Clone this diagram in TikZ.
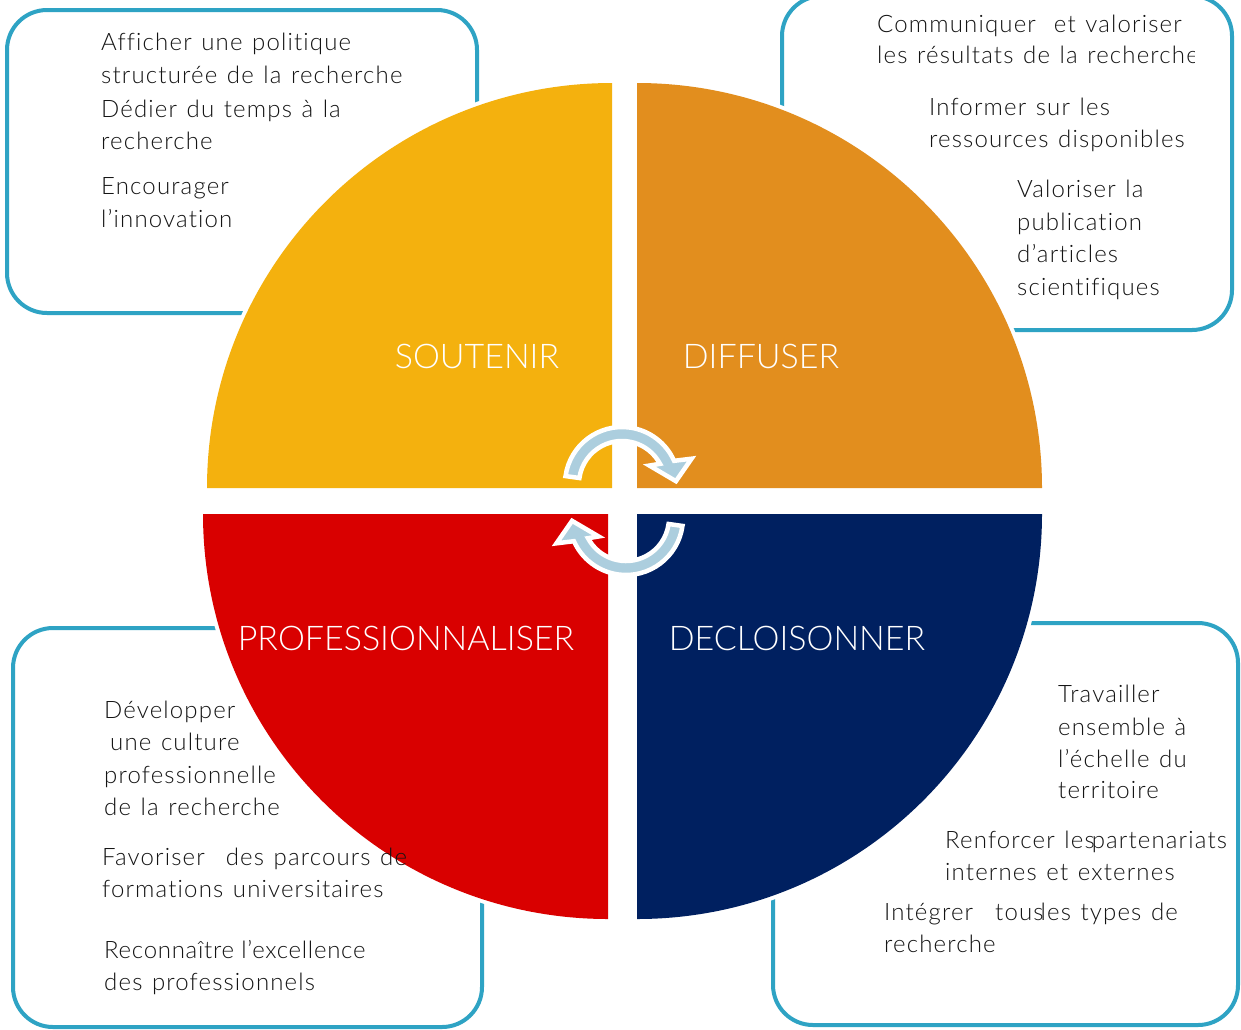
\documentclass[tikz,border=0pt]{standalone}
\usepackage{fontspec}
\setmainfont{Lato}[Ligatures=CommonOff]
\newfontfamily\bodyfont{Lato Light}[Ligatures=CommonOff, LetterSpace=4.8, WordSpace=1.25]
\newfontfamily\bodytight{Lato Light}[Ligatures=CommonOff, LetterSpace=3]
\newfontfamily\labfont{Lato Light}[Ligatures=CommonOff]
\definecolor{qyellow}{RGB}{244,177,14}
\definecolor{qorange}{RGB}{226,142,30}
\definecolor{qred}{RGB}{217,0,0}
\definecolor{qnavy}{RGB}{0,32,96}
\definecolor{boxteal}{RGB}{46,163,196}
\definecolor{arrblue}{RGB}{172,206,222}
\definecolor{txtgray}{RGB}{20,20,20}
\tikzset{
  boxframe/.style={draw=boxteal, line width=4pt, rounded corners=40pt},
  quad/.style={preaction={draw=white, line width=8pt}},
  txt/.style={anchor=base west, inner sep=0pt, text=txtgray, font=\bodyfont\fontsize{24}{28}\selectfont},
  txttight/.style={txt, font=\bodytight\fontsize{24}{28}\selectfont},
  lab/.style={anchor=base, inner sep=0pt, text=white, font=\labfont\fontsize{34}{40}\selectfont},
  cyclearrow/.pic={
    \path[fill=arrblue, draw=white, line width=4.5pt, line join=miter]
      (188:57) arc[start angle=188, end angle=336, radius=57]
      -- (340:74) -- (357:54) -- (326:33) -- (332:43)
      arc[start angle=332, end angle=188, radius=43] -- cycle;
  }
}
\begin{document}
\begin{tikzpicture}[x=1pt,y=-1pt]
\useasboundingbox (0,0) rectangle (1241,1029);
\clip (0,0) rectangle (1241,1029);
\fill[white] (0,0) rectangle (1241,1029);

% frames
\draw[boxframe] (7,10) rectangle (477,313);
\draw[boxframe] (782,-4) rectangle (1232,330);
\draw[boxframe] (13,628) rectangle (482,1027);
\draw[boxframe] (773,623) rectangle (1238,1025);

% quadrants
\path[quad, fill=qyellow] (612,488) -- (207,488) arc[start angle=180, end angle=270, radius=405] -- cycle;
\path[quad, fill=qorange] (637,488) -- (637,83) arc[start angle=270, end angle=360, radius=405] -- cycle;
\path[quad, fill=qnavy] (637,514) -- (1042,514) arc[start angle=0, end angle=90, radius=405] -- cycle;
\path[quad, fill=qred] (608,514) -- (608,919) arc[start angle=90, end angle=180, radius=405] -- cycle;

% labels
\node[lab] (soutenir) at (477,368) {SOUTENIR};
\node[lab] (diffuser) at (761,368) {DIFFUSER};
\node[lab] (prof) at (406,650) {PROFESSIONNALISER};
\node[lab] (decl) at (797,650) {DECLOISONNER};

% cycle arrows
\pic at (622,484) {cyclearrow};
\pic[rotate=180] at (626,518) {cyclearrow};

% top-left texts
\node[txt] (tl1) at (101,50) {Afficher une politique};
\node[txt] (tl2) at (101,83) {structurée de la recherche};
\node[txt] (tl3) at (101,117) {Dédier du temps à la};
\node[txt] (tl4) at (101,149) {recherche};
\node[txt] (tl5) at (101,194) {Encourager};
\node[txt] (tl6) at (101,227) {l’innovation};

% top-right texts
\node[txt] (tr1) at (877,32) {Communiquer\hspace{18pt}et valoriser};
\begin{scope}
\clip (870,40) rectangle (1194,80);
\node[txt] (tr2) at (877,63) {les résultats de la recherche};
\end{scope}
\node[txt] (tr3) at (929,115) {Informer sur les};
\node[txt] (tr4) at (929,147) {ressources disponibles};
\node[txt] (tr5) at (1017,197) {Valoriser la};
\node[txt] (tr6) at (1017,230) {publication};
\node[txt] (tr7) at (1017,262) {d’articles};
\node[txt] (tr8) at (1017,295) {scientifiques};

% bottom-left texts
\node[txt] (bl1) at (104,718) {Développer};
\node[txt] (bl2) at (110,750) {une culture};
\node[txt] (bl3) at (104,783) {professionnelle};
\node[txt] (bl4) at (104,815) {de la recherche};
\node[txt] (bl5) at (102,865) {Favoriser\hspace{21pt}des parcours de};
\node[txt] (bl6) at (102,897) {formations universitaires};
\node[txttight] (bl7) at (104,958) {Reconnaître l’excellence};
\node[txt] (bl8) at (104,990) {des professionnels};

% bottom-right texts
\node[txt] (br1) at (1058,702) {Travailler};
\node[txt] (br2) at (1058,735) {ensemble à};
\node[txt] (br3) at (1058,767) {l’échelle du};
\node[txt] (br4) at (1058,798) {territoire};
\node[txt] (br5) at (945,848) {Renforcer les\hspace{-3pt}partenariats};
\node[txt] (br6) at (945,880) {internes et externes};
\node[txt] (br7) at (884,920) {Intégrer\hspace{22pt}tous\hspace{-3pt}les types de};
\node[txt] (br8) at (884,952) {recherche};
\end{tikzpicture}
\end{document}
